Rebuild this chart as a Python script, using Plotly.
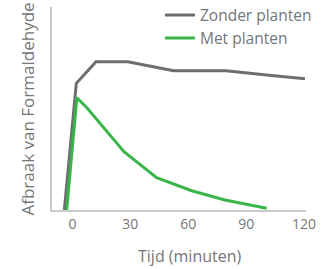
import plotly.graph_objects as go

# Data (y in arbitrary units)
x_zonder = [-4.2, 2.0, 12.2, 28.6, 52.4, 79.5, 100.6, 120.5]
y_zonder = [0, 126.7, 148.3, 148.3, 139.3, 139.3, 135.0, 131.3]

x_met = [-3.0, 2.3, 7.7, 26.7, 43.6, 61.8, 79.0, 100.6]
y_met = [0, 112.3, 101.7, 58.3, 32.3, 19.3, 10.0, 1.7]

tick_vals = [0, 30, 60, 90, 120]
tick_text = ["0", "30", "60", "90", "120"]

GRAY = "#6d6e71"
GREEN = "#3ab54a"
TEXT = "#767676"
AXIS = "#c9cacc"
FONT = "Open Sans"

fig = go.Figure()
fig.add_trace(go.Scatter(x=x_zonder, y=y_zonder, mode="lines", name="Zonder planten",
                         line=dict(color=GRAY, width=3), legend="legend"))
fig.add_trace(go.Scatter(x=x_met, y=y_met, mode="lines", name="Met planten",
                         line=dict(color=GREEN, width=3), legend="legend2"))

leg_common = dict(xanchor="left", yanchor="middle", font=dict(size=15.5, color=TEXT),
                  itemwidth=30, bgcolor="rgba(0,0,0,0)")

fig.update_layout(
    width=324, height=269,
    margin=dict(l=52, r=18, t=7, b=59, autoexpand=False),
    paper_bgcolor="white", plot_bgcolor="white",
    font=dict(family=FONT, color=TEXT, size=14),
    showlegend=True,
    legend=dict(x=0.425, y=0.958, **leg_common),
    legend2=dict(x=0.425, y=0.845, **leg_common),
    xaxis=dict(range=[-10.6, 121], tickvals=tick_vals, ticktext=tick_text,
               showgrid=False, zeroline=False, showline=True, linecolor=AXIS,
               linewidth=2, ticks="", tickfont=dict(size=14, color=TEXT),
               automargin=False),
    yaxis=dict(range=[0, 203], showgrid=False, zeroline=False, showline=True,
               linecolor=AXIS, linewidth=2, showticklabels=False, ticks="",
               automargin=False),
    annotations=[
        dict(text="Afbraak van Formaldehyde", textangle=-90,
             xref="paper", yref="paper", x=-0.0945, y=0.5,
             xanchor="center", yanchor="middle", showarrow=False,
             font=dict(size=17, color=TEXT)),
        dict(text="Tijd (minuten)",
             xref="paper", yref="paper", x=0.545, y=-0.2266,
             xanchor="center", yanchor="middle", showarrow=False,
             font=dict(size=16, color=TEXT)),
    ],
)

fig.write_html("out.html", config={"displayModeBar": False},
               post_script="document.body.style.margin='0';document.body.style.padding='0';")
